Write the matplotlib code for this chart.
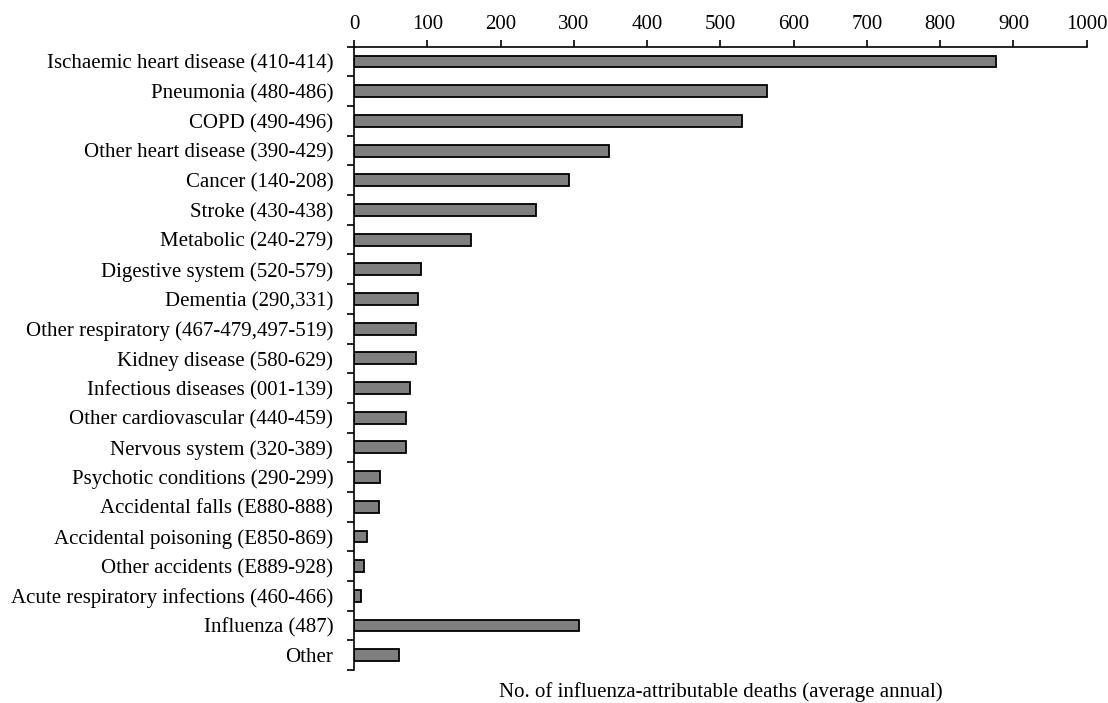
import matplotlib
matplotlib.use("Agg")
import matplotlib.pyplot as plt
import numpy as np

categories = [
    "Ischaemic heart disease (410-414)",
    "Pneumonia (480-486)",
    "COPD (490-496)",
    "Other heart disease (390-429)",
    "Cancer (140-208)",
    "Stroke (430-438)",
    "Metabolic (240-279)",
    "Digestive system (520-579)",
    "Dementia (290,331)",
    "Other respiratory (467-479,497-519)",
    "Kidney disease (580-629)",
    "Infectious diseases (001-139)",
    "Other cardiovascular (440-459)",
    "Nervous system (320-389)",
    "Psychotic conditions (290-299)",
    "Accidental falls (E880-888)",
    "Accidental poisoning (E850-869)",
    "Other accidents (E889-928)",
    "Acute respiratory infections (460-466)",
    "Influenza (487)",
    "Other",
]
deaths = [876, 563, 529, 348, 294, 249, 160, 91, 88, 85, 84, 76, 71, 71,
          35, 34, 18, 14, 10, 307, 61]
xticks = [0, 100, 200, 300, 400, 500, 600, 700, 800, 900, 1000]
xlabel = "No. of influenza-attributable deaths (average annual)"

plt.rcParams['font.family'] = ['Liberation Serif', 'DejaVu Serif']
plt.rcParams['font.size'] = 15

fig = plt.figure(figsize=(11.08, 7.03), dpi=100)
ax = fig.add_axes([0.3195, 0.0469, 0.9808 - 0.3195, 0.9336 - 0.0469])

n = len(categories)
pos = np.arange(n) + 0.5
ax.barh(pos, deaths, height=0.4, color='#7f7f7f', edgecolor='black', linewidth=1.3)

ax.set_ylim(n, 0)
ax.set_xlim(0, 1000)

ax.set_yticks(pos)
ax.set_yticklabels(categories)
ax.set_yticks(np.arange(n + 1), minor=True)
ax.tick_params(axis='y', which='major', length=0, pad=15, labelsize=15)
ax.tick_params(axis='y', which='minor', length=5, width=1.2, direction='out')

ax.xaxis.tick_top()
ax.set_xticks(xticks)
ax.set_xticklabels([str(t) for t in xticks])
ax.tick_params(axis='x', length=5, width=1.2, direction='out', pad=4, labelsize=15)
ax.xaxis.set_label_position('bottom')
ax.set_xlabel(xlabel, fontsize=15, labelpad=9)

for s in ['right', 'bottom']:
    ax.spines[s].set_visible(False)
for s in ['top', 'left']:
    ax.spines[s].set_linewidth(1.2)

fig.savefig('out.png', dpi=100)
